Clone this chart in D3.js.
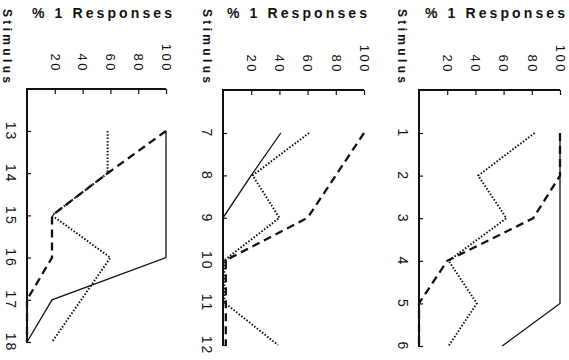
<!DOCTYPE html>
<html>
<head>
<meta charset="utf-8">
<script src="https://cdn.jsdelivr.net/npm/d3@7"></script>
<style>
  html, body { margin: 0; padding: 0; background: #fff; }
  svg { display: block; }
  text { font-family: "Liberation Sans", Arial, Helvetica, sans-serif; fill: #111; }
</style>
</head>
<body>
<svg id="chart" width="569" height="360"></svg>
<script>
// ---- data ----
const stimuliA = [13, 14, 15, 16, 17, 18];
const solidA   = [100, 100, 100, 100, 18, 0];
const dashedA  = [100, 58, 18, 18, 0, 0];
const dottedA  = [58, 58, 18, 60, 39, 18];

const stimuliB = [7, 8, 9, 10, 11, 12];
const solidB   = [41, 20, 0, 0, 0, 0];
const dashedB  = [100, 80, 60, 2, 2, 2];
const dottedB  = [61, 21, 40, 1, 1, 39];

const stimuliC = [1, 2, 3, 4, 5, 6];
const solidC   = [100, 100, 100, 100, 100, 59];
const dashedC  = [100, 100, 81, 20, 0, 0];
const dottedC  = [82, 42, 62, 21, 41, 21];

const valueTicks = [20, 40, 60, 80, 100];
const valueTitle = "% 1 Responses";
const stimTitle = "Stimulus";

// ---- layout ----
const panels = [
  { stim: stimuliA, solid: solidA, dashed: dashedA, dotted: dottedA, x0: 27,  x1: 166, yTop: 89, yA: 131, yB: 342, titleX: 32,  stimX: 3 },
  { stim: stimuliB, solid: solidB, dashed: dashedB, dotted: dottedB, x0: 223, x1: 364, yTop: 90, yA: 133, yB: 345, titleX: 227, stimX: 203 },
  { stim: stimuliC, solid: solidC, dashed: dashedC, dotted: dottedC, x0: 419, x1: 560, yTop: 90, yA: 133, yB: 346, titleX: 425, stimX: 398 }
];

const svg = d3.select("#chart");
svg.append("rect").attr("width", 569).attr("height", 360).attr("fill", "#fff");

const styles = {
  solid:  { w: 1.3, dash: null },
  dashed: { w: 2.3, dash: "8,5" },
  dotted: { w: 2.0, dash: "1.5,1.8" }
};

panels.forEach(p => {
  const g = svg.append("g");
  const x = d3.scaleLinear().domain([0, 100]).range([p.x0, p.x1]);
  const y = d3.scaleLinear().domain([p.stim[0], p.stim[p.stim.length - 1]]).range([p.yA, p.yB]);

  // value axis (top)
  const ax = g.append("g").attr("transform", `translate(0,${p.yTop})`)
    .call(d3.axisBottom(x).tickValues(valueTicks).tickSize(5).tickSizeOuter(0));
  ax.select(".domain").remove();
  ax.selectAll("line").attr("stroke", "#111").attr("stroke-width", 1.2);
  ax.selectAll("text")
    .attr("y", null).attr("dy", "0.36em")
    .attr("transform", "translate(0,-16) rotate(90)")
    .attr("text-anchor", "end")
    .attr("font-size", 13).attr("letter-spacing", 2.5).attr("fill", "#111");
  g.append("line").attr("x1", x(0)).attr("x2", x(100)).attr("y1", p.yTop).attr("y2", p.yTop)
    .attr("stroke", "#111").attr("stroke-width", 1.8);

  // stimulus axis (left)
  const ay = g.append("g").attr("transform", `translate(${p.x0},0)`)
    .call(d3.axisRight(y).tickValues(p.stim).tickFormat(d3.format("d")).tickSize(4).tickSizeOuter(0));
  ay.select(".domain").remove();
  ay.selectAll("line").attr("stroke", "#111").attr("stroke-width", 1.2);
  ay.selectAll("text")
    .attr("x", null).attr("dy", "0.36em")
    .attr("transform", "translate(-16,0) rotate(90)")
    .attr("text-anchor", "middle")
    .attr("font-size", 14).attr("letter-spacing", 2).attr("fill", "#111");
  g.append("line").attr("x1", p.x0).attr("x2", p.x0).attr("y1", p.yTop - 1).attr("y2", p.yB + 1)
    .attr("stroke", "#111").attr("stroke-width", 2);

  // series
  ["solid", "dashed", "dotted"].forEach(k => {
    const line = d3.line().x(d => x(d[1])).y(d => y(d[0]));
    const pts = p.stim.map((s, i) => [s, p[k][i]]);
    g.append("path").attr("d", line(pts))
      .attr("fill", "none").attr("stroke", "#111")
      .attr("stroke-width", styles[k].w)
      .attr("stroke-dasharray", styles[k].dash)
      .attr("stroke-linejoin", "miter");
  });

  // titles
  g.append("text").attr("x", p.titleX).attr("y", 18)
    .attr("font-size", 14).attr("font-weight", "bold")
    .attr("textLength", 140).attr("lengthAdjust", "spacing")
    .text(valueTitle);
  g.append("text")
    .attr("transform", `translate(${p.stimX},9) rotate(90)`)
    .attr("font-size", 12).attr("font-weight", "bold")
    .attr("textLength", 74).attr("lengthAdjust", "spacing")
    .text(stimTitle);
});
</script>
</body>
</html>
